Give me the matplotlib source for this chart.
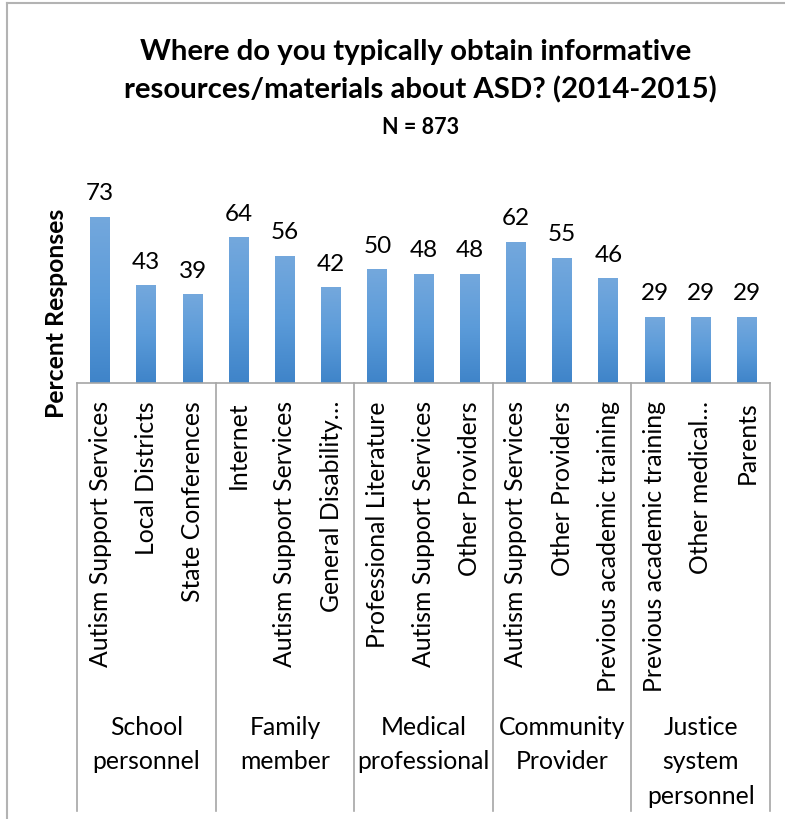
import numpy as np
import matplotlib.pyplot as plt
import matplotlib.transforms as mtransforms
from matplotlib.colors import LinearSegmentedColormap
from matplotlib.lines import Line2D

plt.rcParams['font.family'] = ['Lato', 'DejaVu Sans']

# Survey responses, grouped by respondent type
groups = ['School\npersonnel', 'Family\nmember', 'Medical\nprofessional',
          'Community\nProvider', 'Justice\nsystem\npersonnel']
sources = ['Autism Support Services', 'Local Districts', 'State Conferences',
           'Internet', 'Autism Support Services', 'General Disability\u2026',
           'Professional Literature', 'Autism Support Services', 'Other Providers',
           'Autism Support Services', 'Other Providers', 'Previous academic training',
           'Previous academic training', 'Other medical\u2026', 'Parents']
values = [73, 43, 39, 64, 56, 42, 50, 48, 48, 62, 55, 46, 29, 29, 29]
per_group = 3

W, H = 785, 819
fig = plt.figure(figsize=(W / 100, H / 100), dpi=100)


def fx(px):
    return px / W


def fy(py):
    return 1 - py / H


ax = fig.add_axes([fx(77), fy(383), fx(770) - fx(77), fy(201) - fy(383)])
x = np.arange(len(values))
bars = ax.bar(x, values, width=0.43, color='none', edgecolor='none')

# vertical gradient fill inside each bar
cmap = LinearSegmentedColormap.from_list('bar', ['#3F84C9', '#5B9BD9', '#74A8DD'])
grad = np.linspace(0, 1, 256).reshape(-1, 1)
for b in bars:
    x0, w, h = b.get_x(), b.get_width(), b.get_height()
    im = ax.imshow(grad, cmap=cmap, origin='lower', aspect='auto',
                   extent=[x0, x0 + w, 0, h], zorder=2)
    im.set_clip_path(b)

for xi, v in zip(x, values):
    ax.annotate(str(v), (xi, v), xytext=(0, 12), textcoords='offset points',
                ha='center', va='baseline', fontsize=17.5)

ax.set_xlim(-0.5, len(values) - 0.5)
ax.set_ylim(0, 80)
ax.set_xticks([])
ax.set_yticks([])
for side in ['left', 'right', 'top']:
    ax.spines[side].set_visible(False)
ax.spines['bottom'].set_color('#A6A6A6')
ax.spines['bottom'].set_linewidth(1.2)
ax.patch.set_alpha(0)

# two-level category axis
trans = mtransforms.blended_transform_factory(ax.transData, fig.transFigure)
for i in range(len(groups) + 1):
    xs = i * per_group - 0.5
    ax.add_line(Line2D([xs, xs], [fy(383), fy(811)], transform=trans,
                       color='#A6A6A6', lw=1.2, clip_on=False))
for xi, s in zip(x, sources):
    ax.text(xi, fy(401), s, transform=trans, rotation=90, ha='center', va='top',
            fontsize=17.8)
for gi, g in enumerate(groups):
    ax.text(gi * per_group + 1, fy(716), g, transform=trans, ha='center', va='top',
            fontsize=17.8, linespacing=1.6, multialignment='center')

fig.text(fx(57), fy(313), 'Percent Responses', rotation=90, ha='center', va='center',
         fontsize=17.8, fontweight='bold')

fig.text(fx(416), fy(52), 'Where do you typically obtain informative', ha='center',
         va='center', fontsize=21.2, fontweight='bold')
fig.text(fx(420), fy(90), 'resources/materials about ASD? (2014-2015)', ha='center',
         va='center', fontsize=21.2, fontweight='bold')
fig.text(fx(421), fy(127), 'N = 873', ha='center', va='center', fontsize=15.5,
         fontweight='bold')

# chart frame
fig.add_artist(Line2D([fx(7), fx(7)], [fy(3), 0], color='#B3B3B3', lw=1.5))
fig.add_artist(Line2D([fx(7), 1], [fy(3), fy(3)], color='#B3B3B3', lw=1.5))

plt.savefig('out.png', dpi=100)
